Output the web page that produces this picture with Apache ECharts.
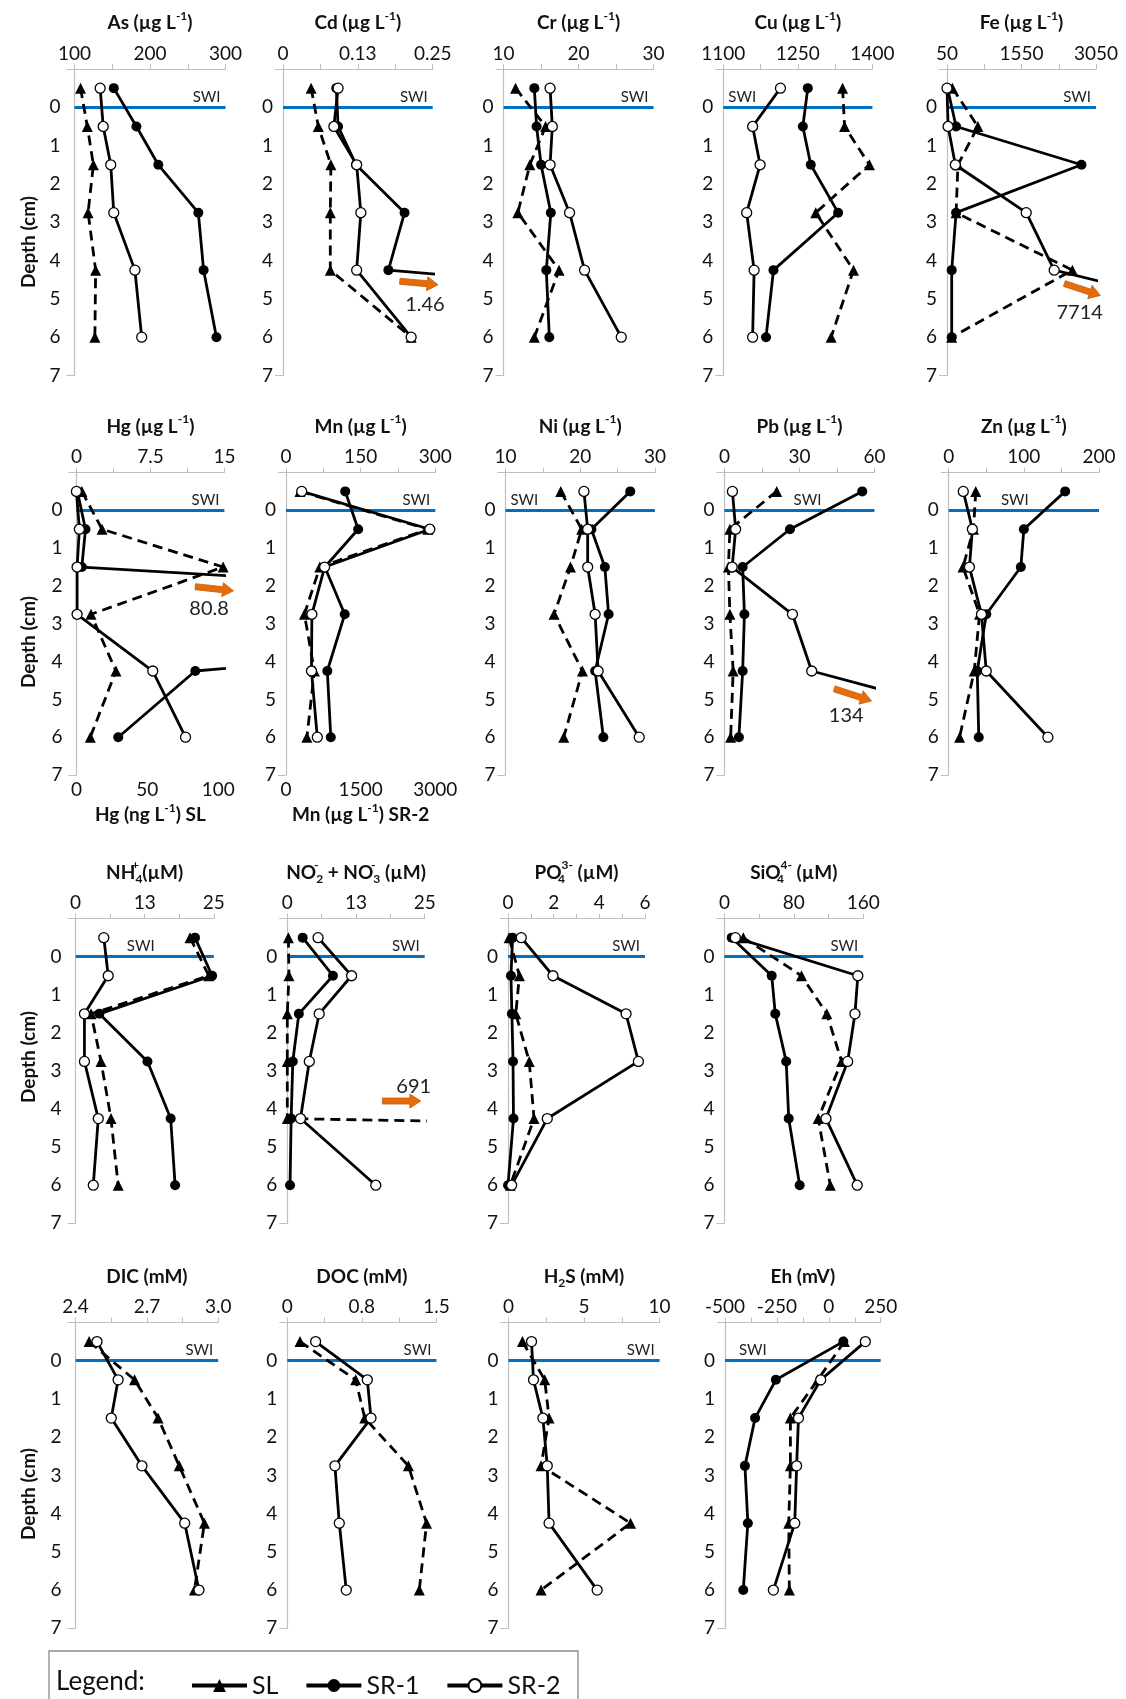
<!DOCTYPE html>
<html><head><meta charset="utf-8">
<script src="https://cdn.jsdelivr.net/npm/echarts@6/dist/echarts.min.js"></script>
<style>html,body{margin:0;padding:0;background:#fff}#c{width:1126px;height:1699px}</style>
</head><body><div id="c"></div>
<script>
// ---------------- DATA ----------------
const depths = [-0.5, 0.5, 1.5, 2.75, 4.25, 6];

const As_SL  = [108, 117, 125, 118, 128, 127];
const As_SR1 = [152, 182, 211, 264, 271, 288];
const As_SR2 = [134, 138, 148, 152, 180, 189];
const As_ticks = [100, 200, 300];           const As_tickText = ['100', '200', '300'];

const Cd_SL  = [0.047, 0.059, 0.080, 0.079, 0.079, 0.214];
const Cd_SR1 = [0.089, 0.092, 0.122, 0.203, 0.176, 1.46];
const Cd_SR2 = [0.092, 0.085, 0.123, 0.130, 0.123, 0.214];
const Cd_ticks = [0, 0.125, 0.25];          const Cd_tickText = ['0', '0.13', '0.25'];

const Cr_SL  = [11.6, 15.6, 13.5, 11.9, 17.4, 14.1];
const Cr_SR1 = [14.1, 14.4, 15.0, 16.3, 15.7, 16.1];
const Cr_SR2 = [16.2, 16.5, 16.2, 18.8, 20.8, 25.7];
const Cr_ticks = [10, 20, 30];              const Cr_tickText = ['10', '20', '30'];

const Cu_SL  = [1340, 1344, 1394, 1286, 1362, 1317];
const Cu_SR1 = [1270, 1260, 1276, 1331, 1201, 1186];
const Cu_SR2 = [1215, 1159, 1174, 1147, 1162, 1159];
const Cu_ticks = [1100, 1250, 1400];        const Cu_tickText = ['1100', '1250', '1400'];

const Fe_SL  = [160, 672, 270, 233, 2574, 145];
const Fe_SR1 = [60, 233, 2757, 233, 145, 145];
const Fe_SR2 = [50, 72, 218, 1645, 2208, 7714];
const Fe_ticks = [50, 1550, 3050];          const Fe_tickText = ['50', '1550', '3050'];

const Hg_SL  = [3.9, 18.1, 103.5, 10.3, 27.9, 9.8];   // ng/L (bottom axis)
const Hg_SR1 = [0.1, 0.92, 0.55, 80.8, 12.05, 4.24];
const Hg_SR2 = [0, 0.3, 0.07, 0.07, 7.74, 11.06];
const Hg_ticks = [0, 7.5, 15];              const Hg_tickText = ['0', '7.5', '15'];
const HgSL_ticks = [0, 50, 100];            const HgSL_tickText = ['0', '50', '100'];

const Mn_SL  = [28, 285, 68, 37, 57, 42];
const Mn_SR1 = [119, 145, 78, 118, 83, 90];
const Mn_SR2 = [315, 2890, 776, 520, 512, 629];       // bottom axis
const Mn_ticks = [0, 150, 300];             const Mn_tickText = ['0', '150', '300'];
const MnSR2_ticks = [0, 1500, 3000];        const MnSR2_tickText = ['0', '1500', '3000'];

const Ni_SL  = [17.4, 20.2, 18.7, 16.5, 20.3, 17.8];
const Ni_SR1 = [26.7, 21.5, 23.3, 23.8, 22.0, 23.1];
const Ni_SR2 = [20.5, 21.0, 21.0, 22.0, 22.4, 27.9];
const Ni_ticks = [10, 20, 30];              const Ni_tickText = ['10', '20', '30'];

const Pb_SL  = [20.9, 2.2, 1.6, 2.2, 3.5, 2.5];
const Pb_SR1 = [55.1, 26.2, 7.3, 8.0, 7.3, 5.8];
const Pb_SR2 = [3.2, 4.5, 3.1, 27.2, 34.9, 134];
const Pb_ticks = [0, 30, 60];               const Pb_tickText = ['0', '30', '60'];

const Zn_SL  = [36, 33, 19, 41, 34, 14.5];
const Zn_SR1 = [155, 100, 96, 50, 38, 40];
const Zn_SR2 = [19.4, 31.5, 27.6, 43.6, 50, 132];
const Zn_ticks = [0, 100, 200];             const Zn_tickText = ['0', '100', '200'];

const NH4_SL  = [20.7, 24.1, 2.8, 4.6, 6.4, 7.7];
const NH4_SR1 = [21.6, 24.7, 4.3, 13.0, 17.2, 18.0];
const NH4_SR2 = [5.1, 5.9, 1.6, 1.6, 4.1, 3.2];
const NH4_ticks = [0, 12.5, 25];            const NH4_tickText = ['0', '13', '25'];

const NO_SL  = [0.2, 0.3, 0, 0, 0, 691];
const NO_SR1 = [2.8, 8.3, 2.1, 1.0, 0.7, 0.5];
const NO_SR2 = [5.6, 11.7, 5.8, 4.0, 2.4, 16.1];
const NO_ticks = [0, 12.5, 25];             const NO_tickText = ['0', '13', '25'];

const PO4_SL  = [0.05, 0.5, 0.34, 0.93, 1.14, 0.1];
const PO4_SR1 = [0.2, 0.13, 0.17, 0.22, 0.24, 0];
const PO4_SR2 = [0.58, 1.97, 5.17, 5.71, 1.72, 0.16];
const PO4_ticks = [0, 2, 4, 6];             const PO4_tickText = ['0', '2', '4', '6'];

const SiO4_SL  = [21.8, 88.8, 118, 135, 108, 122];
const SiO4_SR1 = [8.4, 54.5, 58.6, 71.2, 74.1, 86.7];
const SiO4_SR2 = [12.6, 153.7, 150.4, 142, 117, 153];
const SiO4_ticks = [0, 80, 160];            const SiO4_tickText = ['0', '80', '160'];

const DIC_SL  = [2.457, 2.648, 2.747, 2.836, 2.942, 2.90];
const DIC_SR2 = [2.490, 2.579, 2.550, 2.679, 2.859, 2.919];
const DIC_ticks = [2.4, 2.7, 3.0];          const DIC_tickText = ['2.4', '2.7', '3.0'];

const DOC_SL  = [0.128, 0.688, 0.779, 1.218, 1.401, 1.328];
const DOC_SR2 = [0.285, 0.805, 0.842, 0.479, 0.523, 0.593];
const DOC_ticks = [0, 0.75, 1.5];           const DOC_tickText = ['0', '0.8', '1.5'];

const H2S_SL  = [0.93, 2.4, 2.69, 2.16, 8.08, 2.16];
const H2S_SR2 = [1.53, 1.66, 2.28, 2.57, 2.69, 5.87];
const H2S_ticks = [0, 5, 10];               const H2S_tickText = ['0', '5', '10'];

const Eh_SL  = [75, -53, -185, -185, -193, -190];
const Eh_SR1 = [70, -255, -355, -404, -390, -412];
const Eh_SR2 = [176, -39, -146, -155, -164, -267];
const Eh_ticks = [-500, -250, 0, 250];      const Eh_tickText = ['-500', '-250', '0', '250'];

const depthTicks = [0, 1, 2, 3, 4, 5, 6, 7];
const legendNames = ['SL', 'SR-1', 'SR-2'];

// off-scale annotations (data space of each panel)
const annotations = [
  {panel: 'Cd', from: [0.195, 4.54], to: [0.259, 4.63], text: '1.46', at: [0.237, 5.14]},
  {panel: 'Fe', from: [2413, 4.60], to: [3138, 4.91], text: '7714', at: [2721, 5.36]},
  {panel: 'Hg', from: [12.05, 2.02], to: [15.92, 2.13], text: '80.8', at: [13.45, 2.59]},
  {panel: 'Pb', from: [43.9, 4.72], to: [58.8, 5.04], text: '134', at: [48.7, 5.44]},
  {panel: 'NO', from: [17.3, 3.79], to: [24.3, 3.79], text: '691', at: [23.0, 3.42]}
];

// ---------------- LAYOUT ----------------
const FONT = 'Lato, "Open Sans", "DejaVu Sans", sans-serif';
const rows = [
  {top: 69, bottom: 375.5, depthLabelY: 242},
  {top: 472.5, bottom: 775, depthLabelY: 642},
  {top: 918.6, bottom: 1223.3, depthLabelY: 1057},
  {top: 1322.5, bottom: 1628.3, depthLabelY: 1494}
];
const SWI_POS = {end: 'insideEndTop', start: 'insideStartTop', middle: 'insideMiddleTop'};

const panels = [
  {key:'As', row:0, left:74.5, right:225.5, title:'As (µg L{sup|-1})', min:100, max:300, lv:As_ticks, lt:As_tickText, swi:'end',
    s:[['SL',As_SL],['SR-1',As_SR1],['SR-2',As_SR2]]},
  {key:'Cd', row:0, left:283, right:432.7, title:'Cd (µg L{sup|-1})', min:0, max:0.25, lv:Cd_ticks, lt:Cd_tickText, swi:'end',
    s:[['SL',Cd_SL],['SR-1',Cd_SR1],['SR-2',Cd_SR2]]},
  {key:'Cr', row:0, left:503.6, right:653.5, title:'Cr (µg L{sup|-1})', min:10, max:30, lv:Cr_ticks, lt:Cr_tickText, swi:'end',
    s:[['SL',Cr_SL],['SR-1',Cr_SR1],['SR-2',Cr_SR2]]},
  {key:'Cu', row:0, left:723.3, right:872.4, title:'Cu (µg L{sup|-1})', min:1100, max:1400, lv:Cu_ticks, lt:Cu_tickText, swi:'start',
    s:[['SL',Cu_SL],['SR-1',Cu_SR1],['SR-2',Cu_SR2]]},
  {key:'Fe', row:0, left:947, right:1096, title:'Fe (µg L{sup|-1})', min:50, max:3050, lv:Fe_ticks, lt:Fe_tickText, swi:'end',
    s:[['SL',Fe_SL],['SR-1',Fe_SR1],['SR-2',Fe_SR2]]},

  {key:'Hg', row:1, left:76.4, right:224.4, title:'Hg (µg L{sup|-1})', min:0, max:15, lv:Hg_ticks, lt:Hg_tickText, swi:'end',
    bottom:{min:0, max:104.4, lv:HgSL_ticks, lt:HgSL_tickText, name:'Hg (ng L{sup|-1}) SL'},
    s:[['SL',Hg_SL,true],['SR-1',Hg_SR1],['SR-2',Hg_SR2]]},
  {key:'Mn', row:1, left:286, right:435.3, title:'Mn (µg L{sup|-1})', min:0, max:300, lv:Mn_ticks, lt:Mn_tickText, swi:'end',
    bottom:{min:0, max:3000, lv:MnSR2_ticks, lt:MnSR2_tickText, name:'Mn (µg L{sup|-1}) SR-2'},
    s:[['SL',Mn_SL],['SR-1',Mn_SR1],['SR-2',Mn_SR2,true]]},
  {key:'Ni', row:1, left:505.5, right:654.9, title:'Ni (µg L{sup|-1})', min:10, max:30, lv:Ni_ticks, lt:Ni_tickText, swi:'start',
    s:[['SL',Ni_SL],['SR-1',Ni_SR1],['SR-2',Ni_SR2]]},
  {key:'Pb', row:1, left:724.4, right:874.5, title:'Pb (µg L{sup|-1})', min:0, max:60, lv:Pb_ticks, lt:Pb_tickText, swi:'middle', swiPad:[0,0,0,16],
    s:[['SL',Pb_SL],['SR-1',Pb_SR1],['SR-2',Pb_SR2]]},
  {key:'Zn', row:1, left:948.7, right:1099, title:'Zn (µg L{sup|-1})', min:0, max:200, lv:Zn_ticks, lt:Zn_tickText, swi:'middle', swiPad:[0,18,0,0],
    s:[['SL',Zn_SL],['SR-1',Zn_SR1],['SR-2',Zn_SR2]]},

  {key:'NH4', row:2, left:75.6, right:213.8, title:'NH{supz|+}{sub|4}(µM)', min:0, max:25, lv:NH4_ticks, lt:NH4_tickText, swi:'middle', swiPad:[0,8,0,0],
    s:[['SL',NH4_SL],['SR-1',NH4_SR1],['SR-2',NH4_SR2]]},
  {key:'NO', row:2, left:287.3, right:424.7, title:'NO{supz|-}{sub|2} + NO{supz|-}{sub|3} (µM)', min:0, max:25, lv:NO_ticks, lt:NO_tickText, swi:'end',
    s:[['SL',NO_SL],['SR-1',NO_SR1],['SR-2',NO_SR2]]},
  {key:'PO4', row:2, left:508, right:645, title:'PO{subz|4}{sup|3-} (µM)', min:0, max:6, lv:PO4_ticks, lt:PO4_tickText, swi:'end',
    s:[['SL',PO4_SL],['SR-1',PO4_SR1],['SR-2',PO4_SR2]]},
  {key:'SiO4', row:2, left:724.4, right:863.3, title:'SiO{subz|4}{sup|4-} (µM)', min:0, max:160, lv:SiO4_ticks, lt:SiO4_tickText, swi:'end',
    s:[['SL',SiO4_SL],['SR-1',SiO4_SR1],['SR-2',SiO4_SR2]]},

  {key:'DIC', row:3, left:75.6, right:218.2, title:'DIC (mM)', min:2.4, max:3.0, lv:DIC_ticks, lt:DIC_tickText, swi:'end',
    s:[['SL',DIC_SL],['SR-2',DIC_SR2]]},
  {key:'DOC', row:3, left:287.3, right:436.4, title:'DOC (mM)', min:0, max:1.5, lv:DOC_ticks, lt:DOC_tickText, swi:'end',
    s:[['SL',DOC_SL],['SR-2',DOC_SR2]]},
  {key:'H2S', row:3, left:508.4, right:659.6, title:'H{sub|2}S (mM)', min:0, max:10, lv:H2S_ticks, lt:H2S_tickText, swi:'end',
    s:[['SL',H2S_SL],['SR-2',H2S_SR2]]},
  {key:'Eh', row:3, left:725, right:880.7, title:'Eh (mV)', min:-500, max:250, lv:Eh_ticks, lt:Eh_tickText, swi:'start', swiDist:[14,3],
    s:[['SL',Eh_SL],['SR-1',Eh_SR1],['SR-2',Eh_SR2]]}
];

const STY = {
  'SL':   {symbol:'triangle', size:11, line:{color:'#000', width:2.8, type:[10,6]}, item:{color:'#000'}, z:2},
  'SR-1': {symbol:'circle', size:10, line:{color:'#000', width:2.8, type:'solid'}, item:{color:'#000'}, z:3},
  'SR-2': {symbol:'circle', size:10, line:{color:'#000', width:2.8, type:'solid'}, item:{color:'#fff', borderColor:'#000', borderWidth:1.3}, z:4}
};

function tickSet(lv) {
  const out = [];
  for (let i = 0; i < lv.length; i++) {
    out.push(lv[i]);
    if (i < lv.length - 1) out.push((lv[i] + lv[i + 1]) / 2);
  }
  return out;
}
function fmt(lv, lt) {
  return function (v) {
    for (let i = 0; i < lv.length; i++) {
      if (Math.abs(v - lv[i]) < 1e-9 * Math.max(1, Math.abs(lv[i]))) return lt[i];
    }
    return '';
  };
}

const AXIS_GREY = '#bfbfbf';
const grid = [], xAxis = [], yAxis = [], series = [];
const axisIdx = {};

panels.forEach((p, gi) => {
  const r = rows[p.row];
  grid.push({left: p.left, top: r.top, width: p.right - p.left, height: r.bottom - r.top});
  const xTop = xAxis.length;
  xAxis.push({
    type: 'value', gridIndex: gi, position: 'top', min: p.min, max: p.max,
    axisLine: {show: true, onZero: false, lineStyle: {color: AXIS_GREY, width: 1.2}},
    axisTick: {show: true, customValues: tickSet(p.lv), length: 5, lineStyle: {color: AXIS_GREY}},
    axisLabel: {customValues: p.lv, formatter: fmt(p.lv, p.lt), fontSize: 19, color: '#111', fontFamily: FONT, margin: 6},
    splitLine: {show: false}
  });
  let xBottom = null;
  if (p.bottom) {
    xBottom = xAxis.length;
    xAxis.push({
      type: 'value', gridIndex: gi, position: 'bottom', min: p.bottom.min, max: p.bottom.max,
      axisLine: {show: false, onZero: false},
      axisTick: {show: false},
      axisLabel: {customValues: p.bottom.lv, formatter: fmt(p.bottom.lv, p.bottom.lt), fontSize: 19, color: '#111', fontFamily: FONT, margin: 5},
      splitLine: {show: false}
    });
  }
  axisIdx[p.key] = {x: xTop, y: gi};
  yAxis.push({
    type: 'value', gridIndex: gi, inverse: true, min: -1, max: 7, interval: 1,
    axisLine: {show: true, onZero: false, lineStyle: {color: AXIS_GREY, width: 1.2}},
    axisTick: {show: true, customValues: [-1, 7], length: 8, lineStyle: {color: AXIS_GREY}},
    axisLabel: {customValues: depthTicks, fontSize: 19, color: '#111', fontFamily: FONT, margin: p.left < 100 ? 14 : 10},
    splitLine: {show: false}
  });
  p.s.forEach((sd, si) => {
    const [name, arr, onBottom] = sd;
    const st = STY[name];
    const ser = {
      type: 'line', name: name,
      xAxisIndex: onBottom ? xBottom : xTop, yAxisIndex: gi,
      data: arr.map((v, i) => [v, depths[i]]),
      symbol: st.symbol, symbolSize: st.size, showSymbol: true,
      lineStyle: st.line, itemStyle: st.item, z: st.z,
      clip: true, animation: false, silent: true,
      emphasis: {disabled: true}
    };
    if (si === 0) {
      ser.markLine = {
        silent: true, symbol: ['none', 'none'], animation: false, z: 1,
        data: [{yAxis: 0}],
        lineStyle: {color: '#0070C0', width: 3, type: 'solid'},
        label: {show: true, formatter: 'SWI', position: SWI_POS[p.swi], distance: p.swiDist || [5, 3],
                padding: p.swiPad || 0, fontSize: 15, color: '#222', fontFamily: FONT}
      };
    }
    series.push(ser);
  });
});

const option = {
  animation: false,
  textStyle: {fontFamily: FONT},
  grid, xAxis, yAxis, series,
  legend: {
    data: legendNames.map(n => ({name: n, lineStyle: {type: 'solid', width: 4, color: '#000'}})),
    left: 185, top: 1668, itemWidth: 55, itemHeight: 16, itemGap: 26,
    selectedMode: false, textStyle: {fontSize: 25, color: '#111', fontFamily: FONT}
  }
};

const chart = echarts.init(document.getElementById('c'), null, {renderer: 'canvas'});
chart.setOption(option);

// ---------------- GRAPHICS (titles, labels, arrows, legend box) ----------------
const richT = {
  sup:  {fontSize: 12, fontWeight: 'bold', fontFamily: FONT, lineHeight: 12, verticalAlign: 'top', fill: '#111'},
  sub:  {fontSize: 12, fontWeight: 'bold', fontFamily: FONT, lineHeight: 12, verticalAlign: 'bottom', fill: '#111'},
  supz: {fontSize: 12, fontWeight: 'bold', fontFamily: FONT, lineHeight: 12, verticalAlign: 'top', fill: '#111', width: 0},
  subz: {fontSize: 12, fontWeight: 'bold', fontFamily: FONT, lineHeight: 12, verticalAlign: 'bottom', fill: '#111', width: 0}
};
const graphics = [];
function titleText(text, x, y) {
  return {type: 'text', x: x, y: y, silent: true, z: 10,
    style: {text: text, align: 'center', verticalAlign: 'middle', fontSize: 19, fontWeight: 'bold',
            fontFamily: FONT, fill: '#111', lineHeight: 26, rich: richT}};
}
panels.forEach(p => {
  const r = rows[p.row];
  const cx = (p.left + p.right) / 2;
  graphics.push(titleText(p.title, cx, r.top - 46));
  if (p.bottom) graphics.push(titleText(p.bottom.name, cx, r.bottom + 40));
});
rows.forEach(r => {
  graphics.push({type: 'text', x: 29, y: r.depthLabelY, rotation: Math.PI / 2, silent: true,
    style: {text: 'Depth (cm)', align: 'center', verticalAlign: 'middle', fontSize: 19, fontWeight: 'bold', fontFamily: FONT, fill: '#111'}});
});
// legend frame and caption
graphics.push({type: 'rect', silent: true, shape: {x: 49, y: 1651, width: 529, height: 80},
  style: {fill: 'none', stroke: '#8a8a8a', lineWidth: 1.3}});
graphics.push({type: 'text', x: 56, y: 1682, silent: true,
  style: {text: 'Legend:', align: 'left', verticalAlign: 'middle', fontSize: 26, fontFamily: FONT, fill: '#111'}});

// arrows
annotations.forEach(a => {
  const ai = axisIdx[a.panel];
  const finder = {xAxisIndex: ai.x, yAxisIndex: ai.y};
  const p1 = chart.convertToPixel(finder, a.from);
  const p2 = chart.convertToPixel(finder, a.to);
  const pt = chart.convertToPixel(finder, a.at);
  const dx = p2[0] - p1[0], dy = p2[1] - p1[1];
  const len = Math.sqrt(dx * dx + dy * dy);
  const ux = dx / len, uy = dy / len, nx = -uy, ny = ux;
  const hl = 11, sw = 3, hw = 7;
  const hx = p2[0] - ux * hl, hy = p2[1] - uy * hl;
  const pts = [
    [p1[0] + nx * sw, p1[1] + ny * sw], [hx + nx * sw, hy + ny * sw], [hx + nx * hw, hy + ny * hw],
    [p2[0], p2[1]], [hx - nx * hw, hy - ny * hw], [hx - nx * sw, hy - ny * sw], [p1[0] - nx * sw, p1[1] - ny * sw]
  ];
  graphics.push({type: 'polygon', silent: true, z: 20, shape: {points: pts}, style: {fill: '#E46C0A', stroke: '#C55A08', lineWidth: 0.8}});
  graphics.push({type: 'text', x: pt[0], y: pt[1], silent: true, z: 20,
    style: {text: a.text, align: 'center', verticalAlign: 'middle', fontSize: 20, fontFamily: FONT, fill: '#222'}});
});

chart.setOption({graphic: graphics});
</script>
</body></html>
